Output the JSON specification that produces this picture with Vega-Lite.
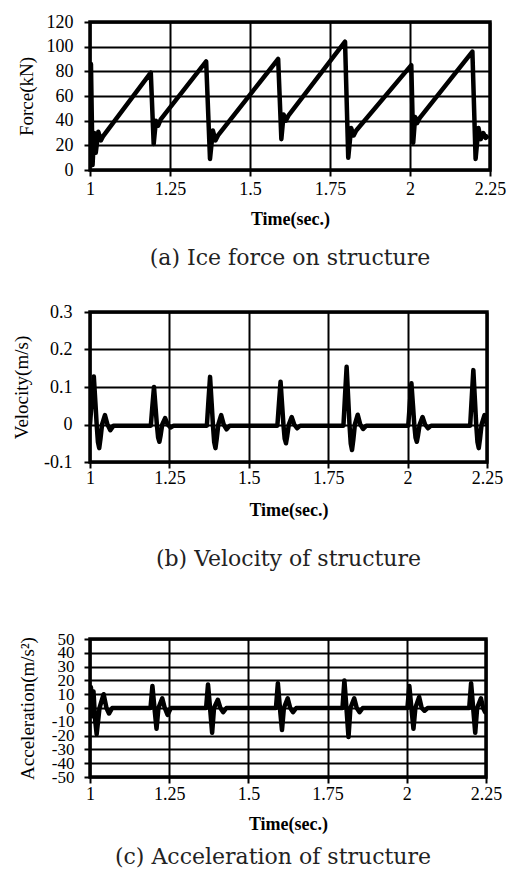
{
  "$schema": "https://vega.github.io/schema/vega-lite/v6.json",
  "padding": {"left": 10, "top": 11, "right": 5, "bottom": 0},
  "background": "white",
  "spacing": 30,
  "align": "none",
  "config": {
    "view": {"stroke": "black", "strokeWidth": 3.5},
    "axis": {
      "grid": true, "gridColor": "black", "gridOpacity": 1, "gridWidth": 2,
      "domain": false, "tickColor": "black", "tickWidth": 2, "tickSize": 6,
      "labelFont": "Liberation Serif", "labelFontSize": 18, "labelColor": "black",
      "labelOverlap": false, "labelFlush": false, "labelBound": false,
      "titleFont": "Liberation Serif", "titleColor": "black", "titleFontSize": 19
    },
    "axisX": {"titleFontWeight": "bold", "titleFontSize": 18},
    "axisY": {"titleFontWeight": "normal"},
    "title": {"font": "DejaVu Serif", "fontSize": 22, "fontWeight": "normal", "color": "#222222", "anchor": "middle", "frame": "group"}
  },
  "vconcat": [
    {
      "width": 400, "height": 148,
      "title": {"text": "(a) Ice force on structure", "orient": "bottom", "offset": 20},
      "data": {"values": [
        {"t": 1.000, "f": 2}, {"t": 1.003, "f": 86}, {"t": 1.008, "f": 4}, {"t": 1.013, "f": 30},
        {"t": 1.018, "f": 14}, {"t": 1.026, "f": 31}, {"t": 1.034, "f": 24}, {"t": 1.040, "f": 27},
        {"t": 1.190, "f": 79}, {"t": 1.199, "f": 21}, {"t": 1.206, "f": 40}, {"t": 1.213, "f": 36},
        {"t": 1.221, "f": 41}, {"t": 1.363, "f": 88}, {"t": 1.375, "f": 9}, {"t": 1.384, "f": 32},
        {"t": 1.392, "f": 24}, {"t": 1.400, "f": 28}, {"t": 1.588, "f": 90}, {"t": 1.598, "f": 25},
        {"t": 1.605, "f": 45}, {"t": 1.612, "f": 40}, {"t": 1.620, "f": 44}, {"t": 1.797, "f": 104},
        {"t": 1.807, "f": 10}, {"t": 1.816, "f": 34}, {"t": 1.824, "f": 28}, {"t": 1.832, "f": 32},
        {"t": 2.004, "f": 85}, {"t": 2.010, "f": 22}, {"t": 2.016, "f": 43}, {"t": 2.022, "f": 38},
        {"t": 2.030, "f": 42}, {"t": 2.195, "f": 96}, {"t": 2.205, "f": 9}, {"t": 2.214, "f": 34},
        {"t": 2.221, "f": 25}, {"t": 2.229, "f": 30}, {"t": 2.236, "f": 26}, {"t": 2.245, "f": 28}
      ]},
      "mark": {"type": "line", "color": "black", "strokeWidth": 4.5, "strokeJoin": "round", "clip": true},
      "encoding": {
        "x": {"field": "t", "type": "quantitative", "scale": {"domain": [1, 2.25], "nice": false, "zero": false},
              "axis": {"values": [1, 1.25, 1.5, 1.75, 2, 2.25], "labelExpr": "'' + datum.value", "title": "Time(sec.)", "labelPadding": 4, "titlePadding": 12}},
        "y": {"field": "f", "type": "quantitative", "scale": {"domain": [0, 120], "nice": false},
              "axis": {"values": [0, 20, 40, 60, 80, 100, 120], "title": "Force(kN)", "labelPadding": 11, "titlePadding": 10}}
      }
    },
    {
      "width": 397, "height": 150,
      "title": {"text": "(b) Velocity of structure", "orient": "bottom", "offset": 30, "subtitle": " ", "subtitleFontSize": 20, "subtitlePadding": 5},
      "data": {"values": [
        {"t": 1.000, "v": 0.0}, {"t": 1.006, "v": 0.07}, {"t": 1.012, "v": 0.128}, {"t": 1.017, "v": 0.058},
        {"t": 1.021, "v": 0.0}, {"t": 1.025, "v": -0.047}, {"t": 1.029, "v": -0.063}, {"t": 1.033, "v": -0.038},
        {"t": 1.038, "v": 0.0}, {"t": 1.047, "v": 0.025}, {"t": 1.055, "v": 0.0}, {"t": 1.064, "v": -0.015},
        {"t": 1.074, "v": -0.003},
        {"t": 1.1915, "v": -0.003}, {"t": 1.1965, "v": 0.05}, {"t": 1.2015, "v": 0.1}, {"t": 1.2065, "v": 0.045},
        {"t": 1.2105, "v": 0.0}, {"t": 1.2145, "v": -0.035}, {"t": 1.2185, "v": -0.046}, {"t": 1.2225, "v": -0.028},
        {"t": 1.2275, "v": 0.0}, {"t": 1.2365, "v": 0.017}, {"t": 1.2445, "v": 0.0}, {"t": 1.2535, "v": -0.008},
        {"t": 1.2635, "v": -0.003},
        {"t": 1.368, "v": -0.003}, {"t": 1.373, "v": 0.064}, {"t": 1.378, "v": 0.127}, {"t": 1.383, "v": 0.057},
        {"t": 1.387, "v": 0.0}, {"t": 1.391, "v": -0.047}, {"t": 1.395, "v": -0.063}, {"t": 1.399, "v": -0.038},
        {"t": 1.404, "v": 0.0}, {"t": 1.413, "v": 0.025}, {"t": 1.421, "v": 0.0}, {"t": 1.430, "v": -0.013},
        {"t": 1.440, "v": -0.003},
        {"t": 1.590, "v": -0.003}, {"t": 1.595, "v": 0.057}, {"t": 1.600, "v": 0.114}, {"t": 1.605, "v": 0.051},
        {"t": 1.609, "v": 0.0}, {"t": 1.613, "v": -0.038}, {"t": 1.617, "v": -0.05}, {"t": 1.621, "v": -0.03},
        {"t": 1.626, "v": 0.0}, {"t": 1.635, "v": 0.02}, {"t": 1.643, "v": 0.0}, {"t": 1.652, "v": -0.01},
        {"t": 1.662, "v": -0.003},
        {"t": 1.798, "v": -0.003}, {"t": 1.803, "v": 0.077}, {"t": 1.808, "v": 0.154}, {"t": 1.813, "v": 0.069},
        {"t": 1.817, "v": 0.0}, {"t": 1.821, "v": -0.051}, {"t": 1.825, "v": -0.068}, {"t": 1.829, "v": -0.041},
        {"t": 1.834, "v": 0.0}, {"t": 1.843, "v": 0.026}, {"t": 1.851, "v": 0.0}, {"t": 1.860, "v": -0.012},
        {"t": 1.870, "v": -0.003},
        {"t": 2.002, "v": -0.003}, {"t": 2.007, "v": 0.055}, {"t": 2.012, "v": 0.11}, {"t": 2.017, "v": 0.05},
        {"t": 2.021, "v": 0.0}, {"t": 2.025, "v": -0.035}, {"t": 2.029, "v": -0.046}, {"t": 2.033, "v": -0.028},
        {"t": 2.038, "v": 0.0}, {"t": 2.047, "v": 0.02}, {"t": 2.055, "v": 0.0}, {"t": 2.064, "v": -0.01},
        {"t": 2.074, "v": -0.003},
        {"t": 2.197, "v": -0.003}, {"t": 2.202, "v": 0.072}, {"t": 2.207, "v": 0.145}, {"t": 2.212, "v": 0.065},
        {"t": 2.216, "v": 0.0}, {"t": 2.220, "v": -0.047}, {"t": 2.224, "v": -0.063}, {"t": 2.228, "v": -0.038},
        {"t": 2.233, "v": 0.0}, {"t": 2.242, "v": 0.025}, {"t": 2.250, "v": 0.0}
      ]},
      "mark": {"type": "line", "color": "black", "strokeWidth": 4.5, "strokeJoin": "round", "clip": true},
      "encoding": {
        "x": {"field": "t", "type": "quantitative", "scale": {"domain": [1, 2.25], "nice": false, "zero": false},
              "axis": {"values": [1, 1.25, 1.5, 1.75, 2, 2.25], "labelExpr": "'' + datum.value", "title": "Time(sec.)", "labelPadding": 1, "titlePadding": 14}},
        "y": {"field": "v", "type": "quantitative", "scale": {"domain": [-0.1, 0.3], "nice": false, "zero": false},
              "axis": {"values": [-0.1, 0, 0.1, 0.2, 0.3], "labelExpr": "'' + datum.value", "title": "Velocity(m/s)", "labelPadding": 12, "titlePadding": 12}}
      }
    },
    {
      "width": 396, "height": 138,
      "title": {"text": "(c) Acceleration of structure", "orient": "bottom", "offset": 14, "dx": -15},
      "data": {"values": [
        {"t": 1.000, "a": 0}, {"t": 1.003, "a": 15}, {"t": 1.007, "a": -6}, {"t": 1.011, "a": 12},
        {"t": 1.016, "a": -8}, {"t": 1.021, "a": -19}, {"t": 1.030, "a": 0}, {"t": 1.043, "a": 10},
        {"t": 1.052, "a": 0}, {"t": 1.060, "a": -4}, {"t": 1.070, "a": 0},
        {"t": 1.191, "a": 0}, {"t": 1.197, "a": 16}, {"t": 1.2035, "a": 0}, {"t": 1.210, "a": -15},
        {"t": 1.216, "a": 0}, {"t": 1.228, "a": 7}, {"t": 1.236, "a": 0}, {"t": 1.245, "a": -5}, {"t": 1.255, "a": 0},
        {"t": 1.3665, "a": 0}, {"t": 1.3725, "a": 17}, {"t": 1.379, "a": 0}, {"t": 1.3855, "a": -18},
        {"t": 1.3915, "a": 0}, {"t": 1.4035, "a": 6}, {"t": 1.4115, "a": 0}, {"t": 1.4205, "a": -3}, {"t": 1.4305, "a": 0},
        {"t": 1.587, "a": 0}, {"t": 1.593, "a": 18}, {"t": 1.5995, "a": 0}, {"t": 1.606, "a": -16},
        {"t": 1.612, "a": 0}, {"t": 1.624, "a": 7}, {"t": 1.632, "a": 0}, {"t": 1.641, "a": -3}, {"t": 1.651, "a": 0},
        {"t": 1.797, "a": 0}, {"t": 1.803, "a": 20}, {"t": 1.8095, "a": 0}, {"t": 1.816, "a": -21},
        {"t": 1.822, "a": 0}, {"t": 1.834, "a": 7}, {"t": 1.842, "a": 0}, {"t": 1.851, "a": -3}, {"t": 1.861, "a": 0},
        {"t": 2.002, "a": 0}, {"t": 2.008, "a": 16}, {"t": 2.0145, "a": 0}, {"t": 2.021, "a": -15},
        {"t": 2.027, "a": 0}, {"t": 2.039, "a": 8}, {"t": 2.047, "a": 0}, {"t": 2.056, "a": -2}, {"t": 2.066, "a": 0},
        {"t": 2.197, "a": 0}, {"t": 2.203, "a": 18}, {"t": 2.2095, "a": 0}, {"t": 2.216, "a": -18},
        {"t": 2.222, "a": 0}, {"t": 2.234, "a": 7}, {"t": 2.241, "a": 0}, {"t": 2.247, "a": -3}, {"t": 2.250, "a": -2}
      ]},
      "mark": {"type": "line", "color": "black", "strokeWidth": 4.5, "strokeJoin": "round", "clip": true},
      "encoding": {
        "x": {"field": "t", "type": "quantitative", "scale": {"domain": [1, 2.25], "nice": false, "zero": false},
              "axis": {"values": [1, 1.25, 1.5, 1.75, 2, 2.25], "labelExpr": "'' + datum.value", "title": "Time(sec.)", "labelPadding": 2, "titlePadding": 12}},
        "y": {"field": "a", "type": "quantitative", "scale": {"domain": [-50, 50], "nice": false, "zero": false},
              "axis": {"values": [-50, -40, -30, -20, -10, 0, 10, 20, 30, 40, 50], "labelExpr": "'' + datum.value", "title": "Acceleration(m/s²)", "labelPadding": 10, "titlePadding": 14, "labelFontSize": 17}}
      }
    }
  ]
}
